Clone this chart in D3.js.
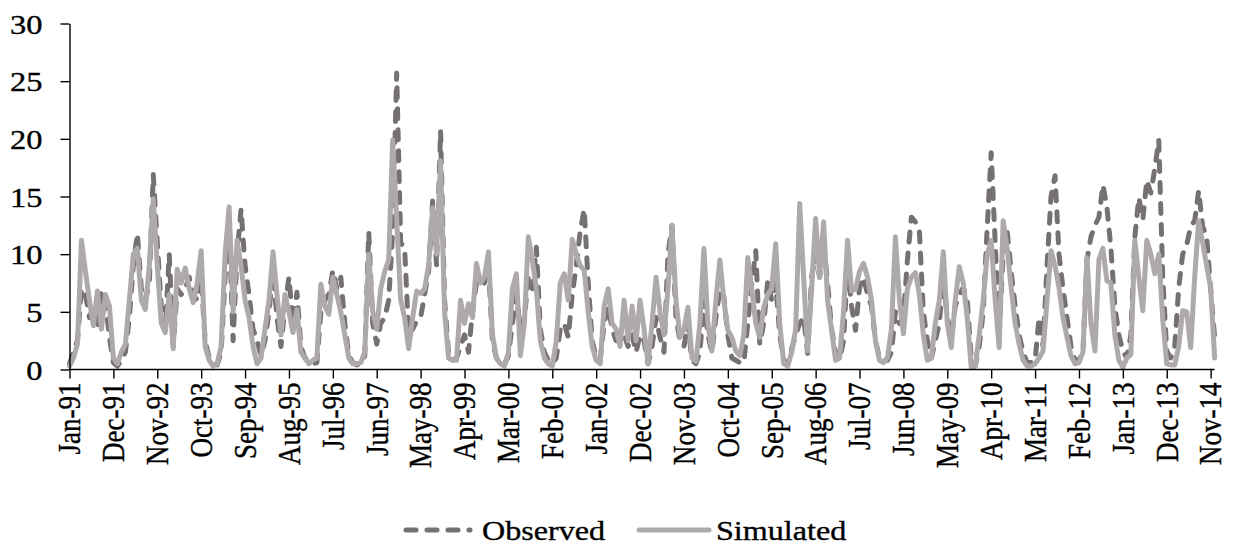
<!DOCTYPE html>
<meta charset="utf-8">
<style>
html,body {
  margin:0px;
  padding:0px;
  background-color:white;
  overflow:hidden;
}
text {
  font-family: "Liberation Serif", "Times New Roman", serif;
  fill: black;
  stroke: black;
  stroke-width: 0.35px;
}
.axis path,
.axis line {
  fill:none;
  stroke:black;
  stroke-width:1.4px;
}
</style>
<body>
<svg></svg>
</body>
<script src="https://cdn.jsdelivr.net/npm/d3@7"></script>
<script>

// monthly values Jan-91 .. Dec-14 (one row per year)
var observed = [
  0.5, 1.5, 2.5, 7.0, 6.5, 4.5, 5.5, 3.5, 6.8, 6.0, 2.8, 0.6,
  0.3, 0.8, 1.5, 4.5, 9.0, 11.8, 7.0, 6.0, 7.5, 16.9, 11.0, 5.5,
  3.5, 10.0, 2.0, 7.0, 6.5, 7.0, 8.0, 6.5, 6.0, 8.0, 2.5, 1.0,
  0.5, 0.4, 1.5, 8.0, 12.5, 2.5, 10.0, 13.9, 9.0, 6.5, 3.5, 2.5,
  1.2, 2.5, 5.0, 8.5, 4.5, 2.0, 5.5, 8.0, 4.0, 6.7, 2.0, 1.0,
  0.8, 0.5, 0.6, 5.0, 6.0, 6.5, 8.6, 7.0, 8.0, 4.0, 1.2, 0.6,
  0.4, 0.5, 1.2, 11.9, 4.0, 2.2, 4.0, 4.5, 6.0, 12.0, 25.7, 11.0,
  10.5, 3.0, 3.5, 4.2, 4.5, 6.5, 8.5, 14.6, 9.0, 20.7, 6.0, 1.5,
  0.8, 1.0, 2.0, 3.0, 1.5, 5.0, 7.5, 8.0, 7.5, 9.0, 2.5, 1.0,
  0.5, 0.4, 1.2, 4.0, 6.5, 3.5, 4.5, 8.0, 7.0, 10.6, 3.5, 1.5,
  0.8, 0.5, 1.0, 3.5, 4.0, 2.8, 6.5, 9.0, 12.0, 13.9, 7.5, 2.5,
  1.0, 0.8, 4.0, 5.5, 3.5, 2.5, 2.5, 3.0, 2.0, 3.0, 1.5, 3.0,
  2.5, 0.5, 2.0, 4.5, 2.8, 1.5, 10.0, 12.5, 4.5, 2.5, 2.0, 4.0,
  0.8, 0.5, 1.5, 6.0, 3.0, 1.5, 4.5, 7.0, 6.3, 3.0, 1.0, 0.8,
  0.6, 0.6, 4.0, 7.5, 10.3, 2.2, 4.0, 7.7, 6.0, 7.5, 3.0, 0.8,
  0.5, 1.8, 3.0, 4.0, 4.5, 1.4, 8.0, 10.0, 8.0, 11.0, 7.5, 3.5,
  1.5, 0.8, 2.5, 9.0, 5.5, 3.4, 7.1, 8.0, 6.5, 5.5, 2.5, 1.0,
  0.8, 0.8, 1.5, 5.0, 4.0, 4.5, 9.5, 13.2, 12.8, 12.0, 5.0, 2.5,
  1.0, 2.5, 4.0, 8.0, 4.5, 2.8, 5.5, 6.5, 7.1, 6.0, 1.0, 0.3,
  2.0, 5.0, 12.3, 18.8, 11.0, 3.0, 10.0, 12.0, 8.5, 5.5, 3.0, 1.5,
  0.6, 0.6, 0.8, 4.5, 2.0, 9.0, 15.0, 16.8, 10.0, 7.0, 4.5, 2.0,
  0.8, 0.8, 1.5, 9.5, 11.5, 12.5, 13.2, 16.0, 14.1, 10.5, 5.5, 3.0,
  1.6, 1.0, 3.0, 11.5, 14.9, 13.0, 16.4, 15.3, 17.4, 19.9, 8.0, 1.6,
  1.0, 2.0, 7.1, 10.0, 10.8, 12.4, 12.9, 15.5, 12.4, 11.5, 7.0, 2.8
];

var simulated = [
  0.3, 1.0, 2.2, 11.2, 8.5, 6.0, 3.8, 6.8, 3.5, 6.5, 5.5, 1.0,
  0.5, 1.5, 2.2, 6.0, 10.0, 10.5, 6.0, 5.2, 9.0, 14.8, 9.0, 4.0,
  3.2, 6.5, 1.8, 8.7, 7.5, 8.8, 7.0, 5.8, 7.5, 10.3, 2.0, 0.8,
  0.3, 0.5, 2.0, 10.0, 14.1, 5.0, 11.2, 9.0, 6.0, 4.5, 2.0, 0.5,
  1.0, 3.5, 6.0, 10.2, 6.5, 3.0, 6.5, 5.0, 3.2, 5.2, 1.5, 1.0,
  0.5, 0.8, 1.0, 7.4, 5.5, 4.8, 8.0, 6.5, 5.0, 3.0, 1.0, 0.5,
  0.5, 0.6, 1.5, 10.0, 5.0, 3.5, 7.0, 8.5, 9.5, 19.9, 13.0, 6.0,
  4.5, 1.8, 4.5, 6.8, 6.6, 7.0, 9.0, 14.0, 10.0, 18.1, 5.0, 1.0,
  0.8, 0.8, 6.0, 4.0, 5.7, 4.5, 9.2, 7.5, 8.0, 10.2, 3.0, 1.0,
  0.5, 0.3, 1.5, 7.0, 8.3, 1.2, 4.0, 11.5, 9.5, 7.0, 2.5, 1.0,
  0.5, 0.3, 2.5, 7.5, 8.3, 6.0, 11.3, 10.0, 9.0, 8.6, 5.0, 2.0,
  0.8, 0.5, 5.5, 7.0, 4.0, 3.5, 2.0, 6.0, 2.5, 5.5, 2.5, 6.0,
  3.5, 0.5, 4.0, 8.0, 5.0, 3.0, 7.0, 12.5, 6.0, 2.8, 3.5, 5.4,
  1.0, 0.7, 4.0, 10.5, 4.0, 1.6, 6.0, 9.5, 6.0, 3.4, 2.8, 1.6,
  1.2, 3.0, 9.7, 7.0, 4.0, 2.8, 5.4, 6.5, 7.0, 10.9, 4.0, 0.5,
  0.3, 1.5, 3.5, 14.4, 8.0, 1.6, 7.0, 13.1, 8.0, 12.8, 6.0, 3.4,
  0.8, 1.0, 5.0, 11.2, 6.8, 7.0, 8.5, 9.2, 8.0, 6.0, 2.5, 0.8,
  0.6, 1.0, 3.5, 11.5, 6.0, 3.1, 7.0, 8.0, 8.4, 6.5, 3.0, 0.8,
  1.0, 4.0, 6.0, 10.2, 4.0, 1.9, 6.0, 8.9, 7.5, 4.5, 0.2, 0.3,
  3.0, 6.0, 10.0, 11.2, 6.0, 1.9, 12.9, 10.5, 7.1, 4.0, 2.2, 0.8,
  0.3, 0.3, 0.5, 1.0, 1.6, 6.0, 10.3, 9.0, 7.1, 4.5, 2.8, 1.2,
  0.5, 0.6, 1.5, 9.7, 4.0, 1.6, 9.5, 10.5, 7.7, 7.5, 3.0, 0.8,
  0.2, 1.0, 1.3, 11.2, 8.0, 5.1, 11.2, 10.0, 8.3, 10.0, 4.3, 0.5,
  0.4, 0.4, 2.0, 5.1, 5.0, 1.9, 8.0, 12.9, 11.0, 9.0, 7.1, 1.0
];

var monthNames = ["Jan","Feb","Mar","Apr","May","Jun","Jul","Aug","Sep","Oct","Nov","Dec"];
var years = d3.range(1991, 2015);
var months = [];
years.forEach(function(y) {
  monthNames.forEach(function(m) { months.push(m + "-" + String(y).slice(2)); });
});

var tickLabels = ["Jan-91","Dec-91","Nov-92","Oct-93","Sep-94","Aug-95","Jul-96","Jun-97",
  "May-98","Apr-99","Mar-00","Feb-01","Jan-02","Dec-02","Nov-03","Oct-04","Sep-05",
  "Aug-06","Jul-07","Jun-08","May-09","Apr-10","Mar-11","Feb-12","Jan-13","Dec-13","Nov-14"];
var yTicks = [0, 5, 10, 15, 20, 25, 30];

var W = 1239, H = 546;
var sx = 1.16;   // the picture is a bit wider than tall, text looks stretched
var obsColor = "#767171", simColor = "#aeaaaa";

var svg = d3.select("svg").attr("width", W).attr("height", H);

var x = d3.scalePoint().domain(months).range([69.5, 69.5 + 287 * 3.99]);
var y = d3.scaleLinear().domain([0, 30]).range([369.5, 23.5]);

var line = d3.line()
  .x(function(d, i) { return x(months[i]); })
  .y(function(d) { return y(d); });

svg.append("path")
  .datum(observed)
  .attr("fill", "none")
  .attr("stroke", obsColor)
  .attr("stroke-width", 5)
  .attr("stroke-linecap", "round")
  .attr("stroke-linejoin", "round")
  .attr("stroke-dasharray", "10,11")
  .attr("d", line);

svg.append("path")
  .datum(simulated)
  .attr("fill", "none")
  .attr("stroke", simColor)
  .attr("stroke-width", 5)
  .attr("stroke-linecap", "round")
  .attr("stroke-linejoin", "round")
  .attr("d", line);

// y axis
var yAxis = svg.append("g")
  .attr("class", "axis")
  .attr("transform", "translate(69.5,0)")
  .call(d3.axisLeft(y).tickValues(yTicks).tickSize(9).tickSizeOuter(0));
yAxis.selectAll("text")
  .attr("x", 0).attr("dy", "0.34em")
  .attr("transform", "translate(-27,0) scale(" + sx + ",1)")
  .style("font-size", "28px");

// x axis
var xAxis = svg.append("g")
  .attr("class", "axis")
  .attr("transform", "translate(0,369.5)")
  .call(d3.axisBottom(x).tickValues(tickLabels).tickSize(9).tickSizeOuter(0));
xAxis.select(".domain").attr("d", "M69.5,0H1214.5");
xAxis.selectAll("text")
  .attr("x", 0).attr("y", 0).attr("dy", "0.33em")
  .attr("text-anchor", "end")
  .attr("transform", "translate(0,13) scale(" + sx + ",1) rotate(-90)")
  .style("font-size", "27px");

// legend
var legend = [
  {name: "Observed", color: obsColor, dash: "10,11", x0: 406, x1: 470, tx: 482},
  {name: "Simulated", color: simColor, dash: null, x0: 639, x1: 709, tx: 716}
];
var lg = svg.append("g");
legend.forEach(function(d) {
  lg.append("line")
    .attr("x1", d.x0).attr("x2", d.x1)
    .attr("y1", 530).attr("y2", 530)
    .attr("stroke", d.color)
    .attr("stroke-width", 5)
    .attr("stroke-linecap", "round")
    .attr("stroke-dasharray", d.dash);
  lg.append("text")
    .attr("transform", "translate(" + d.tx + ",539.5) scale(" + (sx + 0.03) + ",1)")
    .style("font-size", "27px")
    .text(d.name);
});

</script>
